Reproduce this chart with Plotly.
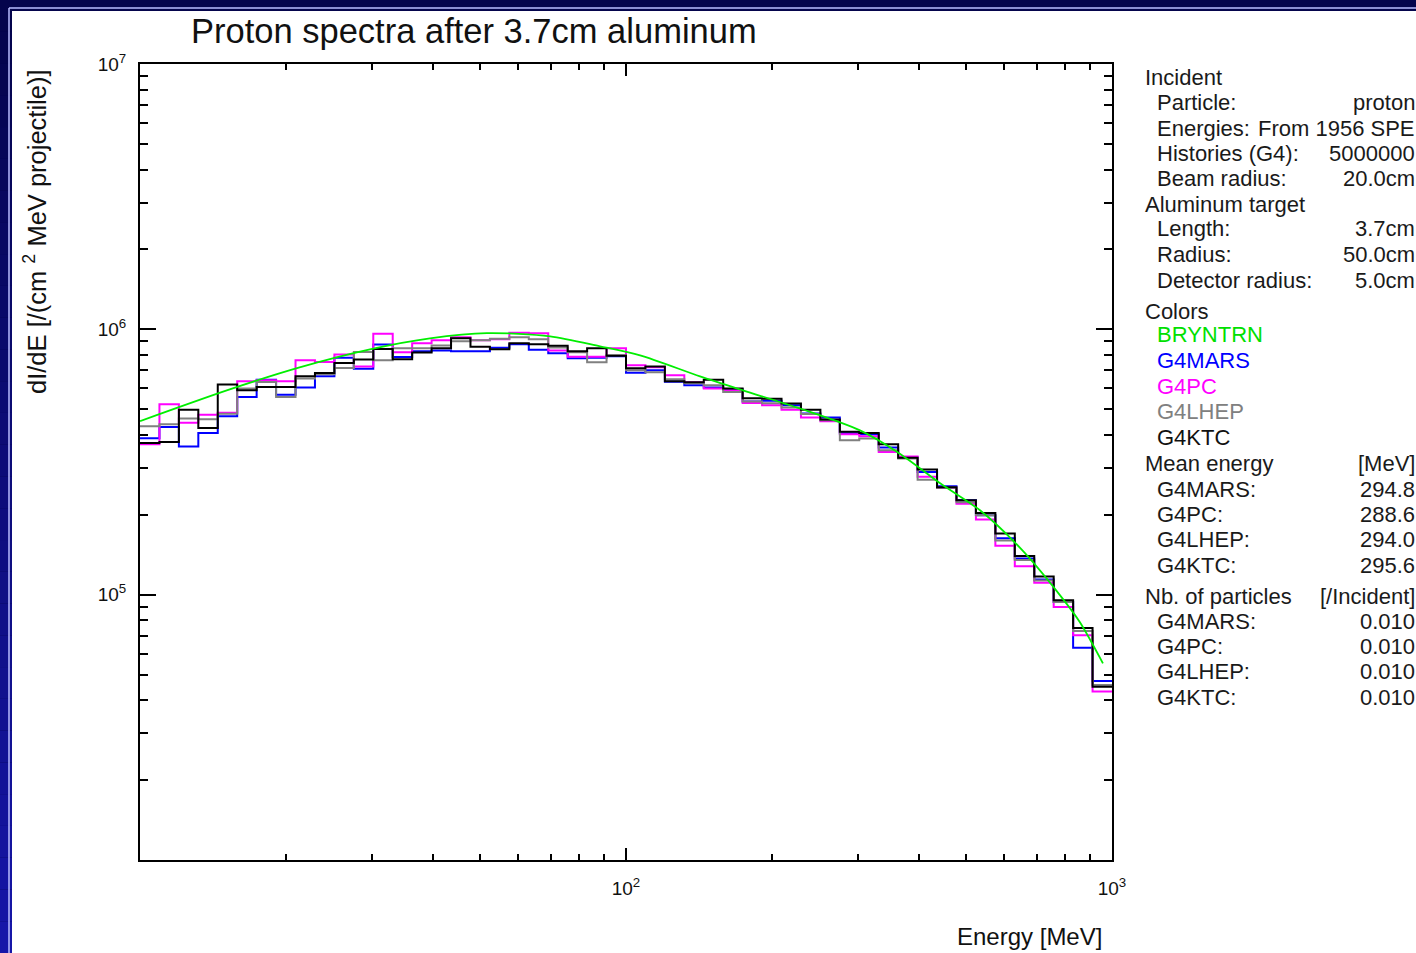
import numpy as np
import plotly.graph_objects as go

# ---------------- data ----------------
# 25 logarithmic bins per decade, 10 MeV .. 1000 MeV
bin_edges = np.logspace(1, 3, 51)

g4mars = [3.89e5, 4.28e5, 3.62e5, 4.07e5, 4.70e5, 5.56e5, 6.46e5, 5.67e5, 6.03e5, 6.65e5,
          7.82e5, 7.11e5, 8.76e5, 7.86e5, 8.26e5, 8.33e5, 8.26e5, 8.26e5, 8.52e5, 8.78e5,
          8.37e5, 8.12e5, 7.78e5, 7.81e5, 7.91e5, 6.86e5, 7.01e5, 6.34e5, 6.15e5, 6.04e5,
          5.94e5, 5.35e5, 5.38e5, 5.17e5, 4.82e5, 4.65e5, 4.06e5, 4.02e5, 3.59e5, 3.29e5,
          2.90e5, 2.56e5, 2.27e5, 1.99e5, 1.63e5, 1.37e5, 1.14e5, 9.38e4, 6.31e4, 4.73e4]

g4pc = [3.69e5, 5.22e5, 4.45e5, 4.77e5, 4.85e5, 6.37e5, 6.43e5, 6.37e5, 7.64e5, 7.53e5,
        8.03e5, 7.25e5, 9.63e5, 8.19e5, 8.86e5, 9.09e5, 9.33e5, 9.09e5, 9.17e5, 9.70e5,
        9.66e5, 8.33e5, 7.88e5, 7.88e5, 8.48e5, 7.32e5, 7.19e5, 6.71e5, 6.32e5, 5.99e5,
        5.89e5, 5.28e5, 5.17e5, 4.98e5, 4.65e5, 4.50e5, 4.02e5, 3.95e5, 3.45e5, 3.32e5,
        2.78e5, 2.53e5, 2.20e5, 1.92e5, 1.53e5, 1.28e5, 1.11e5, 8.99e4, 7.03e4, 4.32e4]

g4lhep = [4.31e5, 4.39e5, 4.61e5, 4.58e5, 4.81e5, 5.99e5, 6.33e5, 5.56e5, 6.52e5, 6.77e5,
          7.15e5, 8.21e5, 7.64e5, 8.48e5, 8.48e5, 8.70e5, 9.01e5, 9.09e5, 9.21e5, 9.33e5,
          9.17e5, 8.55e5, 8.19e5, 7.51e5, 7.98e5, 7.01e5, 6.89e5, 6.48e5, 6.26e5, 6.15e5,
          5.81e5, 5.35e5, 5.26e5, 5.08e5, 4.80e5, 4.54e5, 3.82e5, 3.88e5, 3.50e5, 3.26e5,
          2.71e5, 2.53e5, 2.23e5, 1.99e5, 1.60e5, 1.35e5, 1.13e5, 9.38e4, 7.29e4, 4.57e4]

g4ktc = [3.73e5, 3.76e5, 4.98e5, 4.25e5, 6.19e5, 5.89e5, 6.06e5, 6.06e5, 6.65e5, 6.85e5,
         7.46e5, 7.69e5, 8.44e5, 7.71e5, 8.17e5, 8.48e5, 9.25e5, 8.59e5, 8.41e5, 8.86e5,
         8.78e5, 8.67e5, 8.26e5, 8.48e5, 7.95e5, 7.13e5, 7.25e5, 6.37e5, 6.32e5, 6.45e5,
         5.99e5, 5.50e5, 5.48e5, 5.25e5, 4.98e5, 4.57e5, 4.11e5, 4.07e5, 3.69e5, 3.28e5,
         2.96e5, 2.54e5, 2.27e5, 2.03e5, 1.70e5, 1.40e5, 1.17e5, 9.52e4, 7.48e4, 4.50e4]

bryntrn_e = [10.0, 15.3, 21.3, 30.2, 39.5, 51.7, 69.8, 88.4, 106.9, 142, 174, 228,
             303, 366, 443, 535, 647, 782, 859, 958]
bryntrn_v = [4.51e5, 5.94e5, 7.19e5, 8.46e5, 9.25e5, 9.68e5, 9.41e5, 8.63e5, 7.98e5,
             6.65e5, 5.89e5, 5.03e5, 4.16e5, 3.40e5, 2.63e5, 2.08e5, 1.50e5, 9.94e4,
             7.87e4, 5.51e4]

series_names = ["G4MARS", "G4PC", "G4LHEP", "G4KTC"]
series_colors = ["#0000ff", "#ff00ff", "#808080", "#000000"]
series_values = [g4mars, g4pc, g4lhep, g4ktc]
mean_energy = ["294.8", "288.6", "294.0", "295.6"]
nb_particles = ["0.010", "0.010", "0.010", "0.010"]

x_tickvals = [100, 1000]
x_ticktext = ["10<sup>2</sup>", "10<sup>3</sup>"]
y_tickvals = [1e5, 1e6, 1e7]
y_ticktext = ["10<sup>5</sup>", "10<sup>6</sup>", "10<sup>7</sup>"]
x_minor = [k * 10 ** d for d in (1, 2) for k in range(2, 10)]
y_minor = [k * 10 ** d for d in (4, 5, 6) for k in range(2, 10)]

# ---------------- layout geometry ----------------
W, H = 1416, 953
ML, MR, MT, MB = 140, 304, 64, 93
PW, PH = W - ML - MR, H - MT - MB


def fx(px):
    return (px - ML) / PW


def fy(py):
    return (H - MB - py) / PH


FONT = "Liberation Sans, Arial, Helvetica, sans-serif"

fig = go.Figure()

for name, vals, col in zip(series_names, series_values, series_colors):
    fig.add_trace(go.Scatter(
        x=list(bin_edges), y=list(vals) + [vals[-1]],
        mode="lines", line=dict(color=col, width=2, shape="hv"),
        name=name, showlegend=False))

fig.add_trace(go.Scatter(
    x=bryntrn_e, y=bryntrn_v, mode="lines",
    line=dict(color="#00ee00", width=1.8, shape="spline", smoothing=0.8),
    name="BRYNTRN", showlegend=False))

# ---------------- background (slide frame) ----------------
shapes = []
shapes.append(dict(type="rect", xref="paper", yref="paper",
                   x0=fx(0), x1=fx(W), y0=fy(H), y1=fy(0),
                   fillcolor="#04044c", line_width=0, layer="below"))
nseg = 30
top_c = np.array([4, 4, 76])
bot_c = np.array([22, 22, 168])
for i in range(nseg):
    t = i / (nseg - 1)
    c = (top_c * (1 - t) + bot_c * t).astype(int)
    shapes.append(dict(type="rect", xref="paper", yref="paper",
                       x0=fx(0), x1=fx(13), y0=fy(H * (i + 1) / nseg), y1=fy(H * i / nseg),
                       fillcolor="rgb(%d,%d,%d)" % tuple(c), line_width=0, layer="below"))
# light border line
shapes.append(dict(type="line", xref="paper", yref="paper",
                   x0=fx(9), x1=fx(W), y0=fy(8), y1=fy(8),
                   line=dict(color="#b8bcff", width=1.5), layer="below"))
shapes.append(dict(type="line", xref="paper", yref="paper",
                   x0=fx(9), x1=fx(9), y0=fy(8), y1=fy(H),
                   line=dict(color="#b8bcff", width=1.5), layer="below"))
# white panel
shapes.append(dict(type="rect", xref="paper", yref="paper",
                   x0=fx(12), x1=fx(W), y0=fy(H), y1=fy(11),
                   fillcolor="#ffffff", line_width=0, layer="below"))

# ---------------- annotations ----------------
ann = []


def text(px, py, s, size=22, color="#1a1a1a", anchor="left", angle=0):
    ann.append(dict(x=fx(px), y=fy(py), xref="paper", yref="paper", text=s,
                    showarrow=False, xanchor=anchor, yanchor="middle",
                    textangle=angle, font=dict(family=FONT, size=size, color=color)))


text(189, 31, "Proton spectra after 3.7cm aluminum", size=34.5, color="#111111")
text(35, 232, "dI/dE [/(cm <sup>2</sup> MeV projectile)]", size=25.5, color="#111111",
     anchor="center", angle=-90)
text(1104, 936, "Energy [MeV]", size=24, color="#111111", anchor="right")

HX, SX, VX = 1143, 1155, 1417
info_rows = [
    ("h", 77, "Incident", ""),
    ("s", 102, "Particle:", "proton"),
    ("s", 128, "Energies:", "From 1956 SPE"),
    ("s", 153, "Histories (G4):", "5000000"),
    ("s", 178, "Beam radius:", "20.0cm"),
    ("h", 204, "Aluminum target", ""),
    ("s", 229, "Length:", "3.7cm"),
    ("s", 255, "Radius:", "50.0cm"),
    ("s", 280, "Detector radius:", "5.0cm"),
    ("h", 311, "Colors", ""),
]
for kind, py, lab, val in info_rows:
    text(HX if kind == "h" else SX, py, lab)
    if val:
        text(VX, py, val, anchor="right")

color_labels = ["BRYNTRN"] + series_names
color_values = ["#00e000"] + ["#0000ff", "#ff00ff", "#808080", "#111111"]
for i, (lab, col) in enumerate(zip(color_labels, color_values)):
    text(SX, 335 + i * 25.5, lab, color=col)

text(HX, 463, "Mean energy")
text(VX, 463, "[MeV]", anchor="right")
for i, (nm, me) in enumerate(zip(series_names, mean_energy)):
    text(SX, 489 + i * 25.4, nm + ":")
    text(VX, 489 + i * 25.4, me, anchor="right")

text(HX, 596, "Nb. of particles")
text(VX, 596, "[/Incident]", anchor="right")
for i, (nm, nb) in enumerate(zip(series_names, nb_particles)):
    text(SX, 621 + i * 25.4, nm + ":")
    text(VX, 621 + i * 25.4, nb, anchor="right")

# ---------------- axes ----------------
axis_common = dict(
    type="log", showgrid=False, zeroline=False, showline=True,
    linecolor="black", linewidth=2, mirror="ticks", ticks="inside",
    tickcolor="black", tickwidth=1.5,
    tickfont=dict(family=FONT, size=19, color="#111111"),
)

fig.update_layout(
    width=W, height=H,
    margin=dict(l=ML, r=MR, t=MT, b=MB, pad=0),
    paper_bgcolor="#04044c", plot_bgcolor="#ffffff",
    xaxis=dict(range=[1, 3], tickmode="array", tickvals=x_tickvals, ticktext=x_ticktext,
               ticklen=12, ticklabelstandoff=10,
               minor=dict(tickmode="array", tickvals=x_minor, ticks="inside", ticklen=6,
                          tickwidth=1.5, tickcolor="black", showgrid=False),
               **axis_common),
    yaxis=dict(range=[4, 7], tickmode="array", tickvals=y_tickvals, ticktext=y_ticktext,
               ticklen=16, ticklabelstandoff=8,
               minor=dict(tickmode="array", tickvals=y_minor, ticks="inside", ticklen=8,
                          tickwidth=1.5, tickcolor="black", showgrid=False),
               **axis_common),
    shapes=shapes, annotations=ann, showlegend=False,
)

fig.write_html("out.html")
